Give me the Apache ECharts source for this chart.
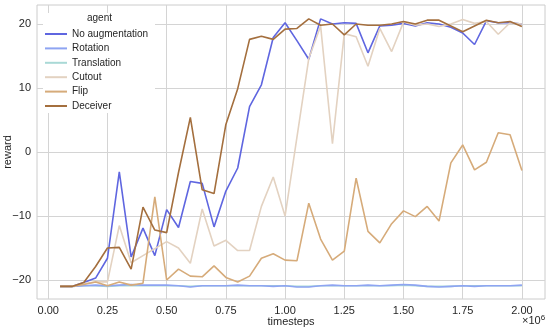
<!DOCTYPE html>
<html><head><meta charset="utf-8">
<script src="https://cdn.jsdelivr.net/npm/echarts@6/dist/echarts.min.js"></script>
<style>html,body{margin:0;padding:0;background:#fff}#c{width:550px;height:330px}</style>
</head><body><div id="c"></div>
<script>
const timesteps = [0.05,0.10,0.15,0.20,0.25,0.30,0.35,0.40,0.45,0.50,0.55,0.60,0.65,0.70,0.75,0.80,0.85,0.90,0.95,1.00,
  1.05,1.10,1.15,1.20,1.25,1.30,1.35,1.40,1.45,1.50,1.55,1.60,1.65,1.70,1.75,1.80,1.85,1.90,1.95,2.00];
const seriesNames = ['No augmentation','Rotation','Translation','Cutout','Flip','Deceiver'];
const noAugmentation = [-21.0,-21.0,-20.4,-19.7,-16.6,-3.1,-16.4,-11.9,-16.2,-9.0,-11.8,-4.6,-4.9,-11.7,-6.1,-2.5,7.1,10.5,17.9,20.2,
  17.4,14.5,20.8,20.0,20.2,20.1,15.5,19.7,19.8,20.1,19.7,20.2,20.0,19.5,18.6,16.8,20.5,20.2,20.2,20.0];
const rotation = [-21.0,-21.0,-20.9,-20.8,-20.9,-20.8,-20.7,-20.8,-20.8,-20.8,-20.9,-21.1,-20.9,-20.9,-20.9,-20.8,-20.9,-20.9,-21.0,-20.9,
  -21.1,-21.1,-20.9,-20.8,-20.9,-20.9,-20.8,-20.9,-20.8,-20.7,-20.8,-21.0,-21.1,-21.0,-20.9,-21.0,-20.9,-20.9,-20.9,-20.8];
const translation = [-21.0,-21.0,-20.9,-20.9,-21.0,-20.9,-20.9,-20.9,-20.9,-20.9,-20.9,-21.0,-20.9,-20.9,-20.9,-20.9,-20.9,-20.9,-20.9,-20.9,
  -21.0,-21.0,-20.9,-20.9,-20.9,-20.9,-20.9,-20.9,-20.9,-20.8,-20.9,-21.0,-21.0,-21.0,-20.9,-20.9,-20.9,-20.9,-20.9,-20.9];
const cutout = [-21.0,-21.0,-20.6,-20.3,-20.3,-11.5,-17.3,-16.2,-15.1,-14.0,-15.0,-17.4,-8.9,-14.7,-13.8,-15.4,-15.4,-8.5,-3.9,-10.0,
  2.3,14.6,19.7,1.3,18.5,18.0,13.4,19.3,15.7,20.3,19.8,20.0,19.6,20.0,20.7,20.1,20.4,18.4,20.2,20.0];
const flip = [-21.0,-21.0,-20.7,-20.3,-20.9,-20.3,-20.8,-20.5,-7.0,-20.0,-18.3,-19.4,-19.5,-17.8,-19.6,-20.3,-19.4,-16.6,-15.9,-16.9,
  -17.0,-8.0,-13.6,-16.9,-15.5,-4.1,-12.4,-14.2,-11.2,-9.2,-10.1,-8.5,-10.8,-1.7,1.1,-2.8,-1.6,3.0,2.7,-2.9];
const deceiver = [-21.0,-21.0,-20.4,-17.9,-15.0,-14.9,-18.3,-8.6,-12.2,-12.6,-3.2,5.4,-5.9,-6.5,4.3,9.9,17.6,18.1,17.6,19.2,
  19.3,20.8,19.8,20.0,18.3,20.0,19.8,19.8,20.0,20.4,20.0,20.6,20.6,19.7,18.8,19.7,20.6,20.2,20.4,19.6];
const xTicks = [0, 0.25, 0.5, 0.75, 1.0, 1.25, 1.5, 1.75, 2.0];
const yTicks = [-20, -10, 0, 10, 20];
const colors = ['#5f66e0', '#8ea4f2', '#a9d9d6', '#e3d2c1', '#d6ab7a', '#a46f3e'];

const allValues = [noAugmentation, rotation, translation, cutout, flip, deceiver];
const FONT = '"Liberation Sans", Arial, sans-serif';
const TXT = '#262626';
const zOrder = [2.0, 2.02, 2.01, 2.03, 2.04, 2.05];

const chart = echarts.init(document.getElementById('c'), null, {renderer: 'canvas', width: 550, height: 330});
const series = seriesNames.map((name, k) => ({
  name, type: 'line',
  data: timesteps.map((t, i) => [t, allValues[k][i]]),
  symbol: 'none', showSymbol: false,
  lineStyle: {width: 1.6, color: colors[k]},
  itemStyle: {color: colors[k]},
  z: zOrder[k]
}));
chart.setOption({
  animation: false,
  textStyle: {fontFamily: FONT},
  grid: {left: 37, right: 5, top: 5, bottom: 31, show: true, borderColor: '#cccccc', borderWidth: 1,
         backgroundColor: '#fff', containLabel: false, outerBoundsMode: 'none'},
  xAxis: {
    type: 'value', min: -0.0475, max: 2.0975,
    name: 'timesteps', nameLocation: 'middle', nameGap: 17, nameMoveOverlap: false,
    nameTextStyle: {fontSize: 11, color: TXT, fontFamily: FONT},
    axisLine: {show: false},
    axisTick: {show: false, customValues: xTicks},
    axisLabel: {customValues: xTicks, formatter: v => v.toFixed(2), fontSize: 11, color: TXT, margin: 6, fontFamily: FONT},
    splitLine: {show: true, lineStyle: {color: '#d4d4d4', width: 1}}
  },
  yAxis: {
    type: 'value', min: -22.97, max: 22.97,
    name: 'reward', nameLocation: 'middle', nameGap: 24, nameRotate: 90, nameMoveOverlap: false,
    nameTextStyle: {fontSize: 11, color: TXT, fontFamily: FONT},
    axisLine: {show: false},
    axisTick: {show: false, customValues: yTicks},
    axisLabel: {customValues: yTicks, formatter: v => (v < 0 ? '\u2212' + Math.abs(v) : String(v)), fontSize: 11, color: TXT, margin: 6, fontFamily: FONT},
    splitLine: {show: true, lineStyle: {color: '#d4d4d4', width: 1}}
  },
  legend: {
    orient: 'vertical', left: 40, top: 23,
    icon: 'rect', itemWidth: 22, itemHeight: 2, itemGap: 2.4,
    textStyle: {fontSize: 10, lineHeight: 12, color: TXT, fontFamily: FONT},
    data: seriesNames, z: 6
  },
  graphic: [
    {type: 'rect', shape: {x: 43, y: 13, width: 112, height: 100}, style: {fill: '#ffffff'}, z: 5, silent: true},
    {type: 'text', left: 87, top: 13, style: {text: 'agent', fontSize: 10, fill: TXT, fontFamily: FONT}, z: 7},
    {type: 'text', left: 522, top: 314, style: {
      text: '×10{s|6}', fontSize: 11, fill: TXT, fontFamily: FONT,
      rich: {s: {fontSize: 8, verticalAlign: 'top', padding: [0, 0, 6, 0], fontFamily: FONT, fill: TXT}}
    }, z: 7}
  ],
  series
});
</script>
</body></html>
